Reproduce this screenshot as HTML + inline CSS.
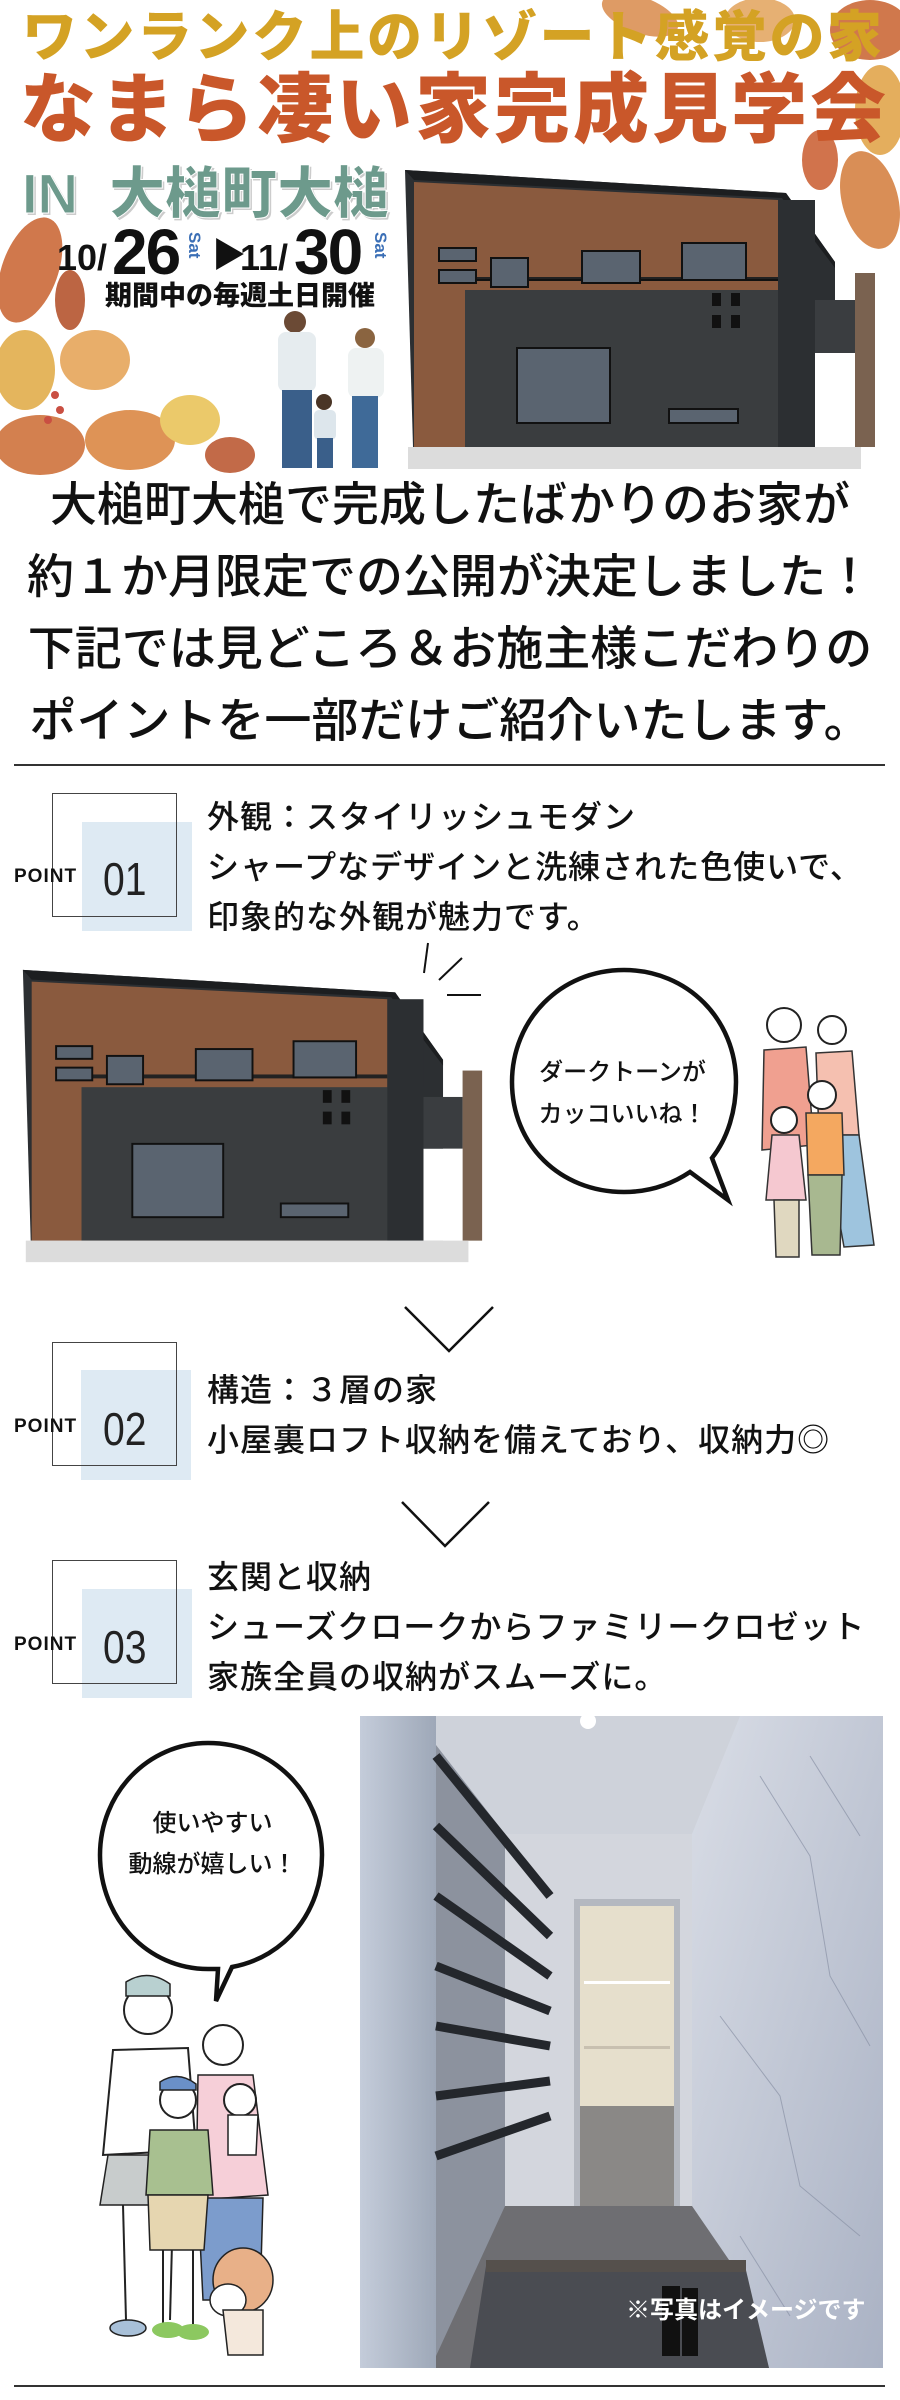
<!DOCTYPE html>
<html><head><meta charset="utf-8"><style>
*{margin:0;padding:0;box-sizing:border-box}
body{width:900px;height:2400px;position:relative;background:#fff;overflow:hidden;font-family:"Liberation Sans","Noto Sans CJK JP",sans-serif;color:#111}
.a{position:absolute;white-space:nowrap}
.jp{font-family:"Liberation Sans","Noto Sans CJK JP",sans-serif}
.pt{font-size:32px;font-weight:500;line-height:50px;letter-spacing:1px}
.box{position:absolute;border:1.5px solid #444;border-left:1.5px solid #444}
.fill{position:absolute;background:#deeaf3}
.plab{position:absolute;font-size:19px;font-weight:bold;letter-spacing:1px}
.pnum{position:absolute;font-size:46px;font-weight:normal;color:#222;transform:scaleX(0.85);transform-origin:0 0}
</style></head><body>

<!-- header leaves -->
<svg class="a" style="left:0;top:0" width="900" height="480">
<g opacity="0.85">
<ellipse cx="640" cy="15" rx="40" ry="18" fill="#d98a4a" transform="rotate(20 640 15)"/>
<ellipse cx="760" cy="20" rx="35" ry="22" fill="#e2a25a"/>
<ellipse cx="870" cy="30" rx="40" ry="30" fill="#c8602c"/>
<ellipse cx="880" cy="110" rx="25" ry="45" fill="#e0a040"/>
<ellipse cx="870" cy="200" rx="28" ry="50" fill="#d27a38" transform="rotate(-15 870 200)"/>
<ellipse cx="820" cy="160" rx="18" ry="30" fill="#c95a2c"/>
<ellipse cx="30" cy="270" rx="28" ry="55" fill="#c8602c" transform="rotate(20 30 270)"/>
<ellipse cx="70" cy="300" rx="15" ry="30" fill="#b04a22"/>
<ellipse cx="25" cy="370" rx="30" ry="40" fill="#e0a840"/>
<ellipse cx="95" cy="360" rx="35" ry="30" fill="#e4a050"/>
<ellipse cx="40" cy="445" rx="45" ry="30" fill="#cc6a30"/>
<ellipse cx="130" cy="440" rx="45" ry="30" fill="#d88038"/>
<ellipse cx="190" cy="420" rx="30" ry="25" fill="#e8c050"/>
<ellipse cx="230" cy="455" rx="25" ry="18" fill="#b85028"/>
<circle cx="55" cy="395" r="4" fill="#c03020"/><circle cx="60" cy="410" r="4" fill="#c03020"/><circle cx="48" cy="420" r="4" fill="#c03020"/>
</g>
</svg>

<div class="a jp" style="left:22px;top:4px;font-size:55px;font-weight:900;color:#d4a224;letter-spacing:2.5px;line-height:66px">ワンランク上のリゾート感覚の家</div>
<div class="a jp" style="left:20px;top:68px;font-size:76px;font-weight:900;color:#c9572a;letter-spacing:3px;line-height:86px">なまら凄い家完成見学会</div>
<div class="a jp" style="left:22px;top:162px;font-size:56px;font-weight:900;color:#6d9a8c;line-height:64px;-webkit-text-stroke:1px #fff;text-shadow:2px 2px 0 #ccc">IN&nbsp; 大槌町大槌</div>
<div class="a" style="left:57px;top:238px;font-size:36px;font-weight:bold;line-height:40px">10/</div>
<div class="a" style="left:112px;top:222px;font-size:64px;font-weight:900;line-height:60px;letter-spacing:-2px">26</div>
<div class="a" style="top:232px;font-size:17px;font-weight:bold;color:#3b6fb6;transform:rotate(90deg);transform-origin:0 0;left:204px">Sat</div>
<div class="a" style="left:212px;top:236px;font-size:34px;line-height:40px">▶</div>
<div class="a" style="left:240px;top:238px;font-size:36px;font-weight:bold;line-height:40px">11/</div>
<div class="a" style="left:294px;top:222px;font-size:64px;font-weight:900;line-height:60px;letter-spacing:-2px">30</div>
<div class="a" style="top:232px;font-size:17px;font-weight:bold;color:#3b6fb6;transform:rotate(90deg);transform-origin:0 0;left:390px">Sat</div>
<div class="a jp" style="left:105px;top:280px;font-size:27px;font-weight:900;line-height:32px">期間中の毎週土日開催</div>

<!-- family photo header -->
<svg class="a" style="left:240px;top:310px" width="160" height="165">
<circle cx="55" cy="12" r="11" fill="#6b4a35"/>
<rect x="38" y="22" width="38" height="60" rx="8" fill="#e6ecef"/>
<rect x="42" y="80" width="30" height="78" fill="#3a5f8a"/>
<circle cx="125" cy="28" r="10" fill="#8a6440"/>
<rect x="108" y="38" width="36" height="50" rx="8" fill="#eef2f2"/>
<rect x="112" y="86" width="26" height="72" fill="#3f6a98"/>
<circle cx="84" cy="92" r="8" fill="#4a3526"/>
<rect x="74" y="100" width="22" height="30" rx="5" fill="#dde6ec"/>
<rect x="77" y="128" width="16" height="30" fill="#3a5f8a"/>
</svg>

<!-- house 1 -->
<svg class="a" style="left:400px;top:165px" width="480" height="310" viewBox="400 165 480 310">
<polygon points="405,170 786,193 835,262 835,447 413,447" fill="#2c2f32"/>
<polygon points="414,182 778,200 778,447 414,447" fill="#8a5a3e"/>
<polygon points="405,170 786,193 835,262 835,268 782,198 414,180" fill="#1c1e20"/>
<rect x="465" y="290" width="350" height="157" fill="#3a3d3f"/>
<rect x="778" y="200" width="37" height="247" fill="#2c2f32"/>
<rect x="462" y="277" width="316" height="4" fill="#222"/>
<line x1="465" y1="280" x2="778" y2="280" stroke="#111" stroke-width="2"/>
<rect x="815" y="300" width="40" height="53" fill="#3a3d40"/>
<rect x="855" y="273" width="20" height="174" fill="#7a6250"/>
<rect x="815" y="353" width="40" height="94" fill="#fff"/>
<rect x="408" y="447" width="453" height="22" fill="#dcdcdc"/>
<g fill="#5a6470" stroke="#111" stroke-width="2">
<rect x="439" y="248" width="37" height="13"/><rect x="439" y="270" width="37" height="13"/>
<rect x="491" y="258" width="37" height="29"/><rect x="582" y="251" width="58" height="32"/>
<rect x="682" y="243" width="64" height="37"/><rect x="517" y="348" width="93" height="75"/>
<rect x="669" y="409" width="69" height="14"/>
</g>
<g fill="#111"><rect x="712" y="293" width="9" height="13"/><rect x="731" y="293" width="9" height="13"/><rect x="712" y="315" width="9" height="13"/><rect x="731" y="315" width="9" height="13"/></g>
</svg>

<div class="a jp" style="left:0;top:469px;width:900px;text-align:center;font-size:47px;line-height:72px;font-weight:500;white-space:normal">大槌町大槌で完成したばかりのお家が<br>約１か月限定での公開が決定しました！<br>下記では見どころ＆お施主様こだわりの<br>ポイントを一部だけご紹介いたします。</div>

<div class="a" style="left:14px;top:764px;width:871px;height:2px;background:#333"></div>

<!-- POINT 01 -->
<div class="box" style="left:52px;top:793px;width:125px;height:124px;border-bottom:none"></div>
<div class="fill" style="left:82px;top:822px;width:110px;height:109px"></div>
<div class="box" style="left:52px;top:793px;width:125px;height:124px;border-left-color:transparent;border-top-color:transparent"></div>
<div class="plab" style="left:14px;top:866px">POINT</div>
<div class="pnum" style="left:103px;top:852px">01</div>
<div class="a pt" style="left:207px;top:792px">外観：スタイリッシュモダン<br>シャープなデザインと洗練された色使いで、<br>印象的な外観が魅力です。</div>

<!-- burst lines -->
<svg class="a" style="left:0;top:930px" width="900" height="80">
<line x1="428" y1="13" x2="424" y2="43" stroke="#111" stroke-width="2"/>
<line x1="462" y1="28" x2="439" y2="50" stroke="#111" stroke-width="2"/>
<line x1="447" y1="65" x2="481" y2="65" stroke="#111" stroke-width="2"/>
</svg>

<!-- house 2 -->
<svg class="a" style="left:18px;top:965px" width="469" height="303" viewBox="400 165 480 310" preserveAspectRatio="none">
<polygon points="405,170 786,193 835,262 835,447 413,447" fill="#2c2f32"/>
<polygon points="414,182 778,200 778,447 414,447" fill="#8a5a3e"/>
<polygon points="405,170 786,193 835,262 835,268 782,198 414,180" fill="#1c1e20"/>
<rect x="465" y="290" width="350" height="157" fill="#3a3d3f"/>
<rect x="778" y="200" width="37" height="247" fill="#2c2f32"/>
<rect x="462" y="277" width="316" height="4" fill="#222"/>
<rect x="815" y="300" width="40" height="53" fill="#3a3d40"/>
<rect x="855" y="273" width="20" height="174" fill="#7a6250"/>
<rect x="815" y="353" width="40" height="94" fill="#fff"/>
<rect x="408" y="447" width="453" height="22" fill="#dcdcdc"/>
<g fill="#5a6470" stroke="#111" stroke-width="2">
<rect x="439" y="248" width="37" height="13"/><rect x="439" y="270" width="37" height="13"/>
<rect x="491" y="258" width="37" height="29"/><rect x="582" y="251" width="58" height="32"/>
<rect x="682" y="243" width="64" height="37"/><rect x="517" y="348" width="93" height="75"/>
<rect x="669" y="409" width="69" height="14"/>
</g>
<g fill="#111"><rect x="712" y="293" width="9" height="13"/><rect x="731" y="293" width="9" height="13"/><rect x="712" y="315" width="9" height="13"/><rect x="731" y="315" width="9" height="13"/></g>
</svg>

<!-- bubble 1 -->
<svg class="a" style="left:500px;top:960px" width="260" height="260">
<path d="M124,10 C60,10 12,60 12,122 C12,185 60,232 124,232 C150,232 172,224 190,212 L228,240 L212,198 C228,178 236,150 236,122 C236,60 188,10 124,10 Z" fill="#fff" stroke="#111" stroke-width="4.5"/>
</svg>
<div class="a jp" style="left:535px;top:1052px;font-size:24px;font-weight:500;line-height:42px;text-align:center;width:175px">ダークトーンが<br>カッコいいね！</div>

<!-- family 1 -->
<svg class="a" style="left:744px;top:985px" width="145" height="285">
<circle cx="40" cy="40" r="17" fill="#fff" stroke="#222" stroke-width="2"/>
<path d="M20,65 L62,62 L70,160 L18,165 Z" fill="#f0a090" stroke="#333" stroke-width="1.5"/>
<circle cx="88" cy="45" r="14" fill="#fff" stroke="#222" stroke-width="2"/>
<path d="M72,68 L108,66 L115,150 L75,150 Z" fill="#f5c0b0" stroke="#333" stroke-width="1.5"/>
<path d="M80,150 L115,150 L130,260 L100,262 Z" fill="#9ec4de" stroke="#333" stroke-width="1.5"/>
<circle cx="78" cy="110" r="14" fill="#fff" stroke="#222" stroke-width="2"/>
<path d="M62,128 L98,128 L100,190 L64,190 Z" fill="#f4a860" stroke="#333" stroke-width="1.5"/>
<path d="M64,190 L98,190 L96,270 L68,270 Z" fill="#a8b890" stroke="#333" stroke-width="1.5"/>
<circle cx="40" cy="135" r="13" fill="#fff" stroke="#222" stroke-width="2"/>
<path d="M28,150 L55,150 L62,215 L22,215 Z" fill="#f5c8d0" stroke="#333" stroke-width="1.5"/>
<path d="M30,215 L55,215 L55,272 L32,272 Z" fill="#e0d8c0" stroke="#333" stroke-width="1.5"/>
</svg>

<!-- chevrons -->
<svg class="a" style="left:400px;top:1305px" width="100" height="50"><polyline points="5,2 49,46 93,2" fill="none" stroke="#111" stroke-width="2.5"/></svg>
<svg class="a" style="left:398px;top:1500px" width="100" height="50"><polyline points="4,2 47,46 91,2" fill="none" stroke="#111" stroke-width="2.5"/></svg>

<!-- POINT 02 -->
<div class="box" style="left:52px;top:1342px;width:125px;height:124px;border-bottom:none"></div>
<div class="fill" style="left:81px;top:1370px;width:110px;height:110px"></div>
<div class="box" style="left:52px;top:1342px;width:125px;height:124px;border-left-color:transparent;border-top-color:transparent"></div>
<div class="plab" style="left:14px;top:1416px">POINT</div>
<div class="pnum" style="left:103px;top:1402px">02</div>
<div class="a pt" style="left:207px;top:1365px">構造：３層の家<br>小屋裏ロフト収納を備えており、収納力◎</div>

<!-- POINT 03 -->
<div class="box" style="left:52px;top:1560px;width:125px;height:124px;border-bottom:none"></div>
<div class="fill" style="left:82px;top:1589px;width:110px;height:109px"></div>
<div class="box" style="left:52px;top:1560px;width:125px;height:124px;border-left-color:transparent;border-top-color:transparent"></div>
<div class="plab" style="left:14px;top:1634px">POINT</div>
<div class="pnum" style="left:103px;top:1620px">03</div>
<div class="a pt" style="left:207px;top:1552px">玄関と収納<br>シューズクロークからファミリークロゼット<br>家族全員の収納がスムーズに。</div>

<!-- bubble 2 -->
<svg class="a" style="left:90px;top:1735px" width="245" height="275">
<path d="M118,8 C58,8 10,58 10,120 C10,184 58,234 118,234 L128,234 L126,266 L142,232 C196,222 232,176 232,120 C232,58 182,8 118,8 Z" fill="#fff" stroke="#111" stroke-width="4.5"/>
</svg>
<div class="a jp" style="left:110px;top:1803px;width:205px;text-align:center;font-size:24px;font-weight:500;line-height:41px">使いやすい<br>動線が嬉しい！</div>

<!-- family 2 -->
<svg class="a" style="left:78px;top:1970px" width="205" height="395">
<circle cx="70" cy="40" r="24" fill="#fff" stroke="#222" stroke-width="2"/>
<path d="M48,12 Q70,-2 92,14 L92,26 L48,26 Z" fill="#b8d0d0" stroke="#222" stroke-width="1.5"/>
<path d="M35,80 L110,78 L118,180 L25,185 Z" fill="#fff" stroke="#222" stroke-width="2"/>
<path d="M30,185 L105,185 L108,235 L22,235 Z" fill="#c8cccc" stroke="#222" stroke-width="1.5"/>
<line x1="45" y1="235" x2="48" y2="350" stroke="#222" stroke-width="2"/><line x1="95" y1="235" x2="92" y2="350" stroke="#222" stroke-width="2"/>
<circle cx="145" cy="75" r="20" fill="#fff" stroke="#222" stroke-width="2"/>
<path d="M120,105 L175,105 L190,225 L118,230 Z" fill="#f6cfd8" stroke="#222" stroke-width="1.5"/>
<path d="M120,228 L185,228 L182,330 L125,330 Z" fill="#7c9ccc" stroke="#222" stroke-width="1.5"/>
<circle cx="162" cy="130" r="16" fill="#fff" stroke="#222" stroke-width="2"/>
<path d="M150,145 L180,145 L178,185 L150,185 Z" fill="#fff" stroke="#222" stroke-width="1.5"/>
<circle cx="100" cy="130" r="18" fill="#fff" stroke="#222" stroke-width="2"/>
<path d="M82,112 Q100,100 118,114 L118,120 L82,120 Z" fill="#6a90c8" stroke="#222" stroke-width="1.5"/>
<path d="M72,160 L130,160 L135,225 L68,225 Z" fill="#a8c090" stroke="#222" stroke-width="1.5"/>
<path d="M70,225 L130,225 L126,280 L72,280 Z" fill="#e6d6b0" stroke="#222" stroke-width="1.5"/>
<line x1="85" y1="280" x2="85" y2="355" stroke="#222" stroke-width="2"/><line x1="115" y1="280" x2="115" y2="355" stroke="#222" stroke-width="2"/>
<ellipse cx="90" cy="360" rx="16" ry="8" fill="#8cc860"/><ellipse cx="115" cy="362" rx="16" ry="8" fill="#8cc860"/>
<ellipse cx="165" cy="310" rx="30" ry="32" fill="#e8b088" stroke="#222" stroke-width="1.5"/>
<ellipse cx="150" cy="330" rx="18" ry="16" fill="#fff" stroke="#222" stroke-width="1.5"/>
<path d="M145,340 L185,340 L185,385 L150,385 Z" fill="#f4e8dc" stroke="#222" stroke-width="1.5"/>
<ellipse cx="50" cy="358" rx="18" ry="8" fill="#a8c0d8" stroke="#222" stroke-width="1.5"/>
</svg>

<!-- photo -->
<svg class="a" style="left:360px;top:1716px" width="523" height="652">
<defs>
<linearGradient id="wl" x1="0" y1="0" x2="1" y2="0"><stop offset="0" stop-color="#c4ccda"/><stop offset="1" stop-color="#9ea8b8"/></linearGradient>
<linearGradient id="mr" x1="0" y1="0" x2="1" y2="1"><stop offset="0" stop-color="#d9dde6"/><stop offset="1" stop-color="#aab2c4"/></linearGradient>
</defs>
<rect width="523" height="652" fill="#b8bfcc"/>
<rect x="0" y="0" width="76" height="652" fill="url(#wl)"/>
<rect x="76" y="0" width="304" height="118" fill="#ced2da"/>
<circle cx="228" cy="5" r="8" fill="#fff"/>
<rect x="145" y="118" width="187" height="372" fill="#d3d6dd"/>
<polygon points="380,0 523,0 523,652 409,652 332,490 332,118" fill="url(#mr)"/>
<g stroke="#8a92a6" stroke-width="1" fill="none" opacity="0.7">
<path d="M400,60 L450,140 L470,260 L510,330"/><path d="M360,300 L420,380 L440,470 L500,520"/><path d="M450,40 L500,120"/><path d="M380,520 L430,600"/>
</g>
<rect x="214" y="183" width="106" height="307" fill="#b4b8c0"/>
<rect x="220" y="190" width="94" height="300" fill="#e6dfcc"/>
<rect x="220" y="390" width="94" height="100" fill="#8a8886"/>
<rect x="224" y="265" width="86" height="3" fill="#fff"/>
<rect x="224" y="330" width="86" height="3" fill="#c8c0b0"/>
<polygon points="76,29 145,118 145,560 76,640" fill="#8c929e"/>
<g stroke="#24272c" stroke-width="9">
<line x1="76" y1="40" x2="190" y2="180"/><line x1="76" y1="110" x2="190" y2="220"/><line x1="76" y1="180" x2="190" y2="260"/><line x1="76" y1="250" x2="190" y2="295"/><line x1="76" y1="310" x2="190" y2="330"/><line x1="76" y1="380" x2="190" y2="365"/><line x1="76" y1="440" x2="190" y2="400"/>
</g>
<polygon points="145,490 332,490 380,560 409,652 76,652 76,640" fill="#6e6e72"/>
<polygon points="126,550 385,550 409,652 110,652" fill="#4a4c52"/>
<rect x="126" y="544" width="260" height="12" fill="#55504c"/>
<rect x="302" y="570" width="18" height="70" fill="#111"/><rect x="322" y="572" width="16" height="68" fill="#111"/>
<text x="266" y="602" font-family="Liberation Sans, Noto Sans CJK JP, sans-serif" font-size="24" font-weight="bold" fill="#fff">※写真はイメージです</text>
</svg>

<div class="a" style="left:14px;top:2385px;width:871px;height:2px;background:#333"></div>
</body></html>
